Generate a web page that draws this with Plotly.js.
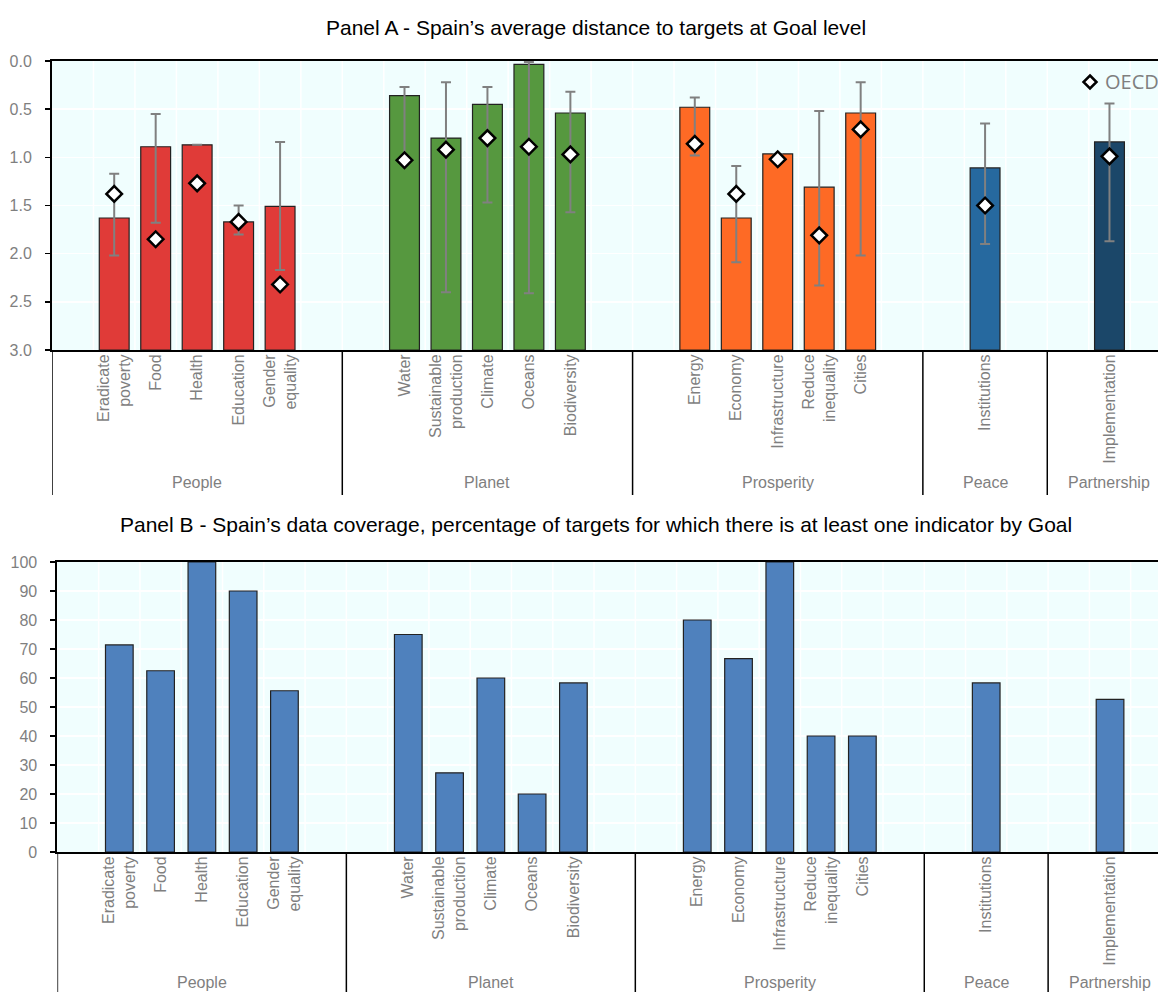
<!DOCTYPE html>
<html>
<head>
<meta charset="utf-8">
<script src="https://cdn.plot.ly/plotly-3.0.1.min.js"></script>
<style>
  html, body { margin: 0; padding: 0; background: #ffffff; overflow: hidden; }
  #chart { width: 1158px; height: 992px; }
</style>
</head>
<body>
<div id="chart"></div>
<script>
// ---------------- DATA ----------------
const groups = ['People', 'Planet', 'Prosperity', 'Peace', 'Partnership'];
const goals = ['Eradicate<br>poverty', 'Food', 'Health', 'Education', 'Gender<br>equality',
               'Water', 'Sustainable<br>production', 'Climate', 'Oceans', 'Biodiversity',
               'Energy', 'Economy', 'Infrastructure', 'Reduce<br>inequality', 'Cities',
               'Institutions', 'Implementation'];
const goalGroup = ['People', 'People', 'People', 'People', 'People',
                   'Planet', 'Planet', 'Planet', 'Planet', 'Planet',
                   'Prosperity', 'Prosperity', 'Prosperity', 'Prosperity', 'Prosperity',
                   'Peace', 'Partnership'];
// Panel A: Spain's average distance to targets (bars), OECD average (diamonds), OECD range (whiskers)
const spainDistance = [1.63, 0.89, 0.87, 1.67, 1.51, 0.36, 0.80, 0.45, 0.035, 0.54, 0.48, 1.63, 0.965, 1.31, 0.54, 1.11, 0.84];
const oecdDistance  = [1.38, 1.85, 1.27, 1.67, 2.32, 1.03, 0.92, 0.80, 0.89, 0.97, 0.86, 1.38, 1.02, 1.81, 0.71, 1.50, 0.99];
const rangeLow      = [1.17, 0.55, 0.87, 1.50, 0.84, 0.27, 0.22, 0.27, 0.01, 0.32, 0.38, 1.09, 0.965, 0.52, 0.22, 0.65, 0.44];
const rangeHigh     = [2.02, 1.68, 0.87, 1.80, 2.17, 1.00, 2.40, 1.47, 2.41, 1.57, 0.98, 2.09, 0.965, 2.33, 2.02, 1.90, 1.87];
// Panel B: data coverage (% of targets with at least one indicator)
const coverage = [71.4, 62.5, 100, 90, 55.6, 75, 27.3, 60, 20, 58.3, 80, 66.7, 100, 40, 40, 58.3, 52.6];
const yTicksA = [0, 0.5, 1, 1.5, 2, 2.5, 3];
const yTicksB = [0, 10, 20, 30, 40, 50, 60, 70, 80, 90, 100];
const axisMaxA = 3;
const legendLabel = 'OECD';

// ---------------- STYLE ----------------
const groupColors = {People: '#e03b38', Planet: '#56983f', Prosperity: '#fe6a25', Peace: '#26699f', Partnership: '#1b4769'};
const coverageColor = '#4f81bd';
const labelFont = '"Liberation Sans", Arial, sans-serif';
const sans = '"Liberation Sans", Arial, sans-serif';
const gray = '#7f7f7f';
const W = 1158, H = 992;

// ---------------- LAYOUT OF SLOTS ----------------
// each group: one empty slot, its goals, one empty slot
const slotX = [];
const groupStart = {}, groupEnd = {};
let s = 0;
groups.forEach(g => {
  groupStart[g] = s;
  s += 1;
  goals.forEach((name, i) => { if (goalGroup[i] === g) { slotX[i] = s + 0.5; s += 1; } });
  s += 1;
  groupEnd[g] = s;
});

// bars rise from the bottom (3.0) of the reversed axis up to the value
const barSizeA = spainDistance.map(v => v - axisMaxA);
const barBaseA = spainDistance.map(() => axisMaxA);
const plusErr = spainDistance.map((v, i) => rangeHigh[i] - v);
const minusErr = spainDistance.map((v, i) => v - rangeLow[i]);
const barColorsA = goalGroup.map(g => groupColors[g]);

const traces = [
  {
    type: 'bar', x: slotX, y: barSizeA, base: barBaseA, xaxis: 'x', yaxis: 'y', width: 0.72,
    marker: {color: barColorsA, line: {color: '#222222', width: 1.2}},
    error_y: {type: 'data', symmetric: false, array: plusErr, arrayminus: minusErr,
              color: '#808080', thickness: 2, width: 5},
    showlegend: false, name: 'Spain', hoverinfo: 'skip'
  },
  {
    type: 'scatter', mode: 'markers', x: slotX, y: oecdDistance, xaxis: 'x', yaxis: 'y',
    marker: {symbol: 'diamond', size: 12, color: '#ffffff', line: {color: '#000000', width: 2.5}},
    name: legendLabel, showlegend: false
  },
  {
    type: 'bar', x: slotX, y: coverage, xaxis: 'x2', yaxis: 'y2', width: 0.67,
    marker: {color: coverageColor, line: {color: '#222222', width: 1.2}},
    showlegend: false, name: 'Coverage'
  }
];

const pyA = [1 - 350 / H, 1 - 61 / H];
const pyB = [1 - 852 / H, 1 - 562 / H];
const rangeMaxA = (W - 52) / 41.47;
const rangeMaxB = (W - 57.4) / 41.28;

function xAxis(domainLeft, rangeMax, anchor) {
  return {
    domain: [domainLeft / W, 1], range: [0, rangeMax], anchor: anchor,
    tickvals: slotX, ticktext: goals, tickangle: -90,
    tickfont: {family: labelFont, size: 16, color: gray},
    ticks: '', showline: true, linecolor: '#000000', linewidth: 2, mirror: true,
    showgrid: false, zeroline: false, fixedrange: true, ticklabelstandoff: -4, automargin: false
  };
}

const shapes = [];
const annotations = [];
// vertical white gridlines at slot boundaries
function addGrid(xref, yref, rangeMax) {
  for (let k = 1; k < Math.ceil(rangeMax); k++) {
    shapes.push({type: 'line', xref: xref, yref: yref + ' domain', x0: k, x1: k, y0: 0, y1: 1,
                 line: {color: '#ffffff', width: 1.5}, layer: 'below'});
  }
}
addGrid('x', 'y', rangeMaxA);
addGrid('x2', 'y2', rangeMaxB);

// group separators and labels
function addGroups(xref, yTop, yBottom, yLabel) {
  groups.forEach(g => {
    shapes.push({type: 'line', xref: xref, yref: 'paper', x0: groupStart[g], x1: groupStart[g],
                 y0: yBottom, y1: yTop, line: {color: '#000000', width: 1.5}});
    annotations.push({xref: xref, yref: 'paper', x: (groupStart[g] + groupEnd[g]) / 2, y: yLabel,
                      text: g, showarrow: false, yanchor: 'middle',
                      font: {family: labelFont, size: 16, color: gray}});
  });
}
addGroups('x', pyA[0], 1 - 495 / H, 1 - 483 / H);
addGroups('x2', pyB[0], 0, 1 - 982 / H);

// manual legend (diamond + label), top-right of panel A
shapes.push({type: 'path', xref: 'paper', yref: 'paper', xsizemode: 'pixel', ysizemode: 'pixel',
             xanchor: 1090 / W, yanchor: 1 - 82 / H,
             path: 'M0,6.5 L6.5,0 L0,-6.5 L-6.5,0 Z',
             fillcolor: '#ffffff', line: {color: '#000000', width: 2.5}});
annotations.push({xref: 'paper', yref: 'paper', x: 1103 / W, y: 1 - 82 / H, showarrow: false,
                  text: legendLabel, xanchor: 'left', yanchor: 'middle',
                  font: {family: '"Open Sans", "Liberation Sans", sans-serif', size: 20, color: gray}});

annotations.push({xref: 'paper', yref: 'paper', x: 595.5 / W, y: 1 - 28 / H, showarrow: false,
  text: 'Panel A - Spain’s average distance to targets at Goal level',
  font: {family: sans, size: 21, color: '#000000'}, xanchor: 'center', yanchor: 'middle'});
annotations.push({xref: 'paper', yref: 'paper', x: 595.5 / W, y: 1 - 524 / H, showarrow: false,
  text: 'Panel B - Spain’s data coverage, percentage of targets for which there is at least one indicator by Goal',
  font: {family: sans, size: 21, color: '#000000'}, xanchor: 'center', yanchor: 'middle'});

const layout = {
  width: W, height: H,
  margin: {l: 0, r: 0, t: 0, b: 0},
  paper_bgcolor: '#ffffff', plot_bgcolor: '#f0fefe',
  barmode: 'overlay',
  xaxis: xAxis(52, rangeMaxA, 'y'),
  xaxis2: xAxis(57.4, rangeMaxB, 'y2'),
  yaxis: {
    domain: pyA, range: [axisMaxA, 0], anchor: 'x', tickvals: yTicksA, tickformat: '.1f',
    tickfont: {family: labelFont, size: 16, color: gray},
    ticks: 'outside', ticklen: 5, tickcolor: '#000000', tickwidth: 1.5,
    showline: true, linecolor: '#000000', linewidth: 2,
    showgrid: true, gridcolor: '#ffffff', gridwidth: 1.5, zeroline: false, fixedrange: true,
    ticklabelstandoff: 10, automargin: false
  },
  yaxis2: {
    domain: pyB, range: [0, 100], anchor: 'x2', tickvals: yTicksB,
    tickfont: {family: labelFont, size: 16, color: gray},
    ticks: 'outside', ticklen: 5, tickcolor: '#000000', tickwidth: 1.5,
    showline: true, linecolor: '#000000', linewidth: 2,
    showgrid: true, gridcolor: '#ffffff', gridwidth: 1.5, zeroline: false, fixedrange: true,
    ticklabelstandoff: 10, automargin: false
  },
  shapes: shapes,
  annotations: annotations,
  showlegend: false
};

Plotly.newPlot('chart', traces, layout, {displayModeBar: false, staticPlot: true});
</script>
</body>
</html>
